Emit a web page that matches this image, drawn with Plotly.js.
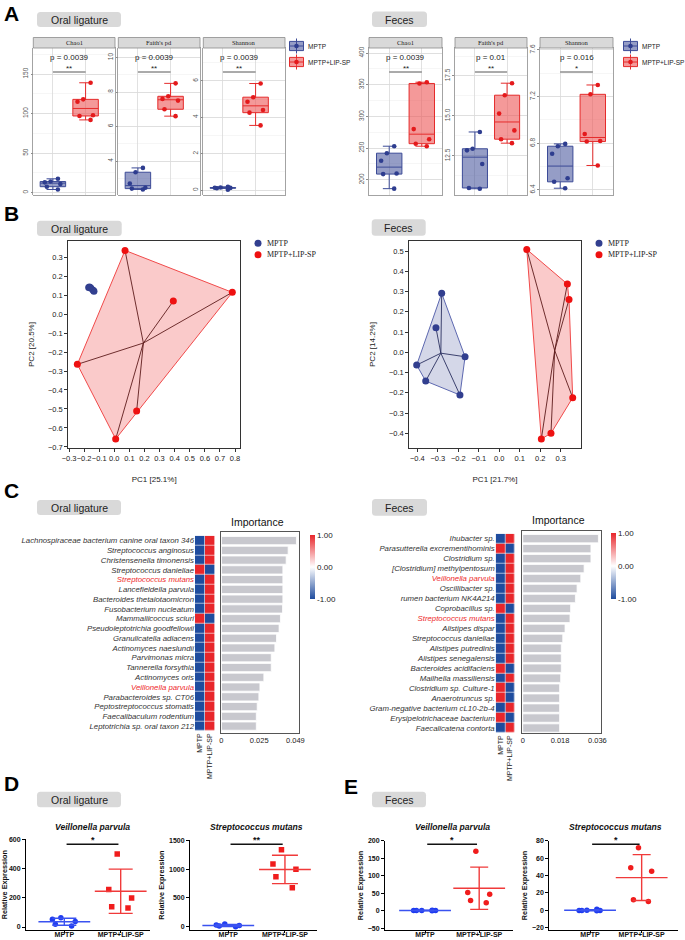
<!DOCTYPE html>
<html>
<head>
<meta charset="utf-8">
<script src="https://cdn.plot.ly/plotly-3.0.1.min.js"></script>
<style>
html,body{margin:0;padding:0;background:#ffffff;}
#fig{width:685px;height:940px;}
</style>
</head>
<body>
<div id="fig"></div>
<script>
// ======================= DATA =======================
const groups = ['MPTP', 'MPTP+LIP-SP'];
const alphaMetrics = ['Chao1', "Faith's pd", 'Shannon'];
const sectionOral = 'Oral ligature';
const sectionFeces = 'Feces';

// (A) alpha diversity - oral ligature
const oralChao1MPTP = [14, 17.5, 7.5, 13, 4, 11];
const oralChao1LIP = [139, 118, 115, 98, 92, 97];
const oralFaithMPTP = [3.6, 3.35, 2.7, 2.45, 2.4, 2.35];
const oralFaithLIP = [8.5, 7.75, 7.6, 7.5, 7.0, 6.6];
const oralShannonMPTP = [0.18, 0.12, 0.1, 0.13, 0.02, 0.14];
const oralShannonLIP = [5.85, 5.1, 4.85, 4.4, 4.25, 3.55];
const oralAlphaP = ['p = 0.0039', 'p = 0.0039', 'p = 0.0039'];
const oralAlphaStars = ['**', '**', '**'];
const oralAlphaTicks = [[0, 50, 100, 150], [4, 6, 8, 10], [0, 2, 4, 6]];

// (A) alpha diversity - feces
const fecesChao1MPTP = [253, 230, 242, 210, 209, 186];
const fecesChao1LIP = [354, 352, 280, 264, 257, 253];
const fecesFaithMPTP = [14.0, 12.85, 12.0, 12.95, 10.5, 10.45];
const fecesFaithLIP = [17.05, 16.3, 15.15, 14.1, 13.55, 13.3];
const fecesShannonMPTP = [6.775, 6.795, 6.71, 6.5, 6.47, 6.415];
const fecesShannonLIP = [7.3, 7.22, 6.88, 6.815, 6.82, 6.61];
const fecesAlphaP = ['p = 0.0039', 'p = 0.01', 'p = 0.016'];
const fecesAlphaStars = ['**', '**', '*'];
const fecesAlphaTicks = [[200, 250, 300, 350, 400], [12.5, 15.0, 17.5], [6.4, 6.8, 7.2, 7.6]];

// (B) PCoA
const oralPC1MPTP = [-0.17, -0.16, -0.155, -0.14, -0.135, -0.165];
const oralPC2MPTP = [0.14, 0.14, 0.135, 0.125, 0.12, 0.142];
const oralPC1LIP = [0.071, 0.782, 0.391, -0.245, 0.148, 0.009];
const oralPC2LIP = [0.335, 0.114, 0.068, -0.265, -0.511, -0.658];
const fecesPC1MPTP = [-0.281, -0.309, -0.167, -0.403, -0.359, -0.192];
const fecesPC2MPTP = [0.291, 0.121, -0.022, -0.063, -0.142, -0.211];
const fecesPC1LIP = [0.134, 0.332, 0.34, 0.358, 0.252, 0.205];
const fecesPC2LIP = [0.508, 0.337, 0.261, -0.224, -0.40, -0.428];
const oralPCTitles = ['PC1 [25.1%]', 'PC2 [20.5%]'];
const fecesPCTitles = ['PC1 [21.7%]', 'PC2 [14.2%]'];

// (C) random-forest importance
const oralSpecies = ['Lachnospiraceae bacterium canine oral taxon 346', 'Streptococcus anginosus', 'Christensenella timonensis', 'Streptococcus danieliae', 'Streptococcus mutans', 'Lancefieldella parvula', 'Bacteroides thetaiotaomicron', 'Fusobacterium nucleatum', 'Mammaliicoccus sciuri', 'Pseudoleptotrichia goodfellowii', 'Granulicatella adiacens', 'Actinomyces naeslundii', 'Parvimonas micra', 'Tannerella forsythia', 'Actinomyces oris', 'Veillonella parvula', 'Parabacteroides sp. CT06', 'Peptostreptococcus stomatis', 'Faecalibaculum rodentium', 'Leptotrichia sp. oral taxon 212'];
const oralImportance = [0.0497, 0.0442, 0.0429, 0.0407, 0.0407, 0.0407, 0.0407, 0.0405, 0.0391, 0.0382, 0.0365, 0.0354, 0.0330, 0.0330, 0.0281, 0.0255, 0.0248, 0.0237, 0.0231, 0.0231];
const oralDirMPTP = [-1, -1, -1, 1, -1, -1, -1, -1, 1, -1, -1, -1, -1, -1, -1, -1, -1, -1, -1, -1];
const oralDirLIP = [1, 1, 1, -1, 1, 1, 1, 1, -1, 1, 1, 1, 1, 1, 1, 1, 1, 1, 1, 1];
const oralImpTicks = [0, 0.025, 0.049];
const oralImpTickText = ['0', '0.025', '0.049'];

const fecesSpecies = ['Ihubacter sp.', 'Parasutterella excrementihominis', 'Clostridium sp.', '[Clostridium] methylpentosum', 'Veillonella parvula', 'Oscillibacter sp.', 'rumen bacterium NK4A214', 'Coprobacillus sp.', 'Streptococcus mutans', 'Alistipes dispar', 'Streptococcus danieliae', 'Alistipes putredinis', 'Alistipes senegalensis', 'Bacteroides acidifaciens', 'Mailhella massiliensis', 'Clostridium sp. Culture-1', 'Anaerotruncus sp.', 'Gram-negative bacterium cL10-2b-4', 'Erysipelotrichaceae bacterium', 'Faecalicatena contorta'];
const fecesImportance = [0.0365, 0.0329, 0.0329, 0.0296, 0.0280, 0.0262, 0.0254, 0.0231, 0.0228, 0.0204, 0.0193, 0.0186, 0.0186, 0.0186, 0.0183, 0.0178, 0.0178, 0.0178, 0.0178, 0.0178];
const fecesDirMPTP = [-1, 1, -1, -1, -1, -1, -1, 1, -1, -1, -1, -1, -1, 1, -1, 1, 1, -1, 1, -1];
const fecesDirLIP = [1, -1, 1, 1, 1, 1, 1, -1, 1, 1, 1, 1, 1, -1, 1, -1, -1, 1, -1, 1];
const fecesImpTicks = [0, 0.018, 0.036];
const fecesImpTickText = ['0', '0.018', '0.036'];
const highlightSpecies = ['Streptococcus mutans', 'Veillonella parvula'];
const colorbarTicks = [-1, 0, 1];
const colorbarTickText = ['-1.00', '0.00', '1.00'];

// (D) qPCR oral ligature, (E) qPCR feces
const exprTitles = ['Veillonella parvula', 'Streptococcus mutans'];
const dVeillonellaMPTP = [64, 53, 37, 7, 18];
const dVeillonellaLIP = [500, 256, 199, 130, 139];
const dMutansMPTP = [46, 29, 23, 12, 0];
const dMutansLIP = [1338, 1089, 996, 869, 678];
const eVeillonellaMPTP = [0.3, 1.6, 0.4, 0.2, 0.5, 0.3];
const eVeillonellaLIP = [170, 52, 47, 29, 23];
const eMutansMPTP = [-0.3, 1.2, -0.2, -0.4, 0.1, -0.3];
const eMutansLIP = [72, 49, 45, 10, 12];
const dStars = ['*', '**'];
const eStars = ['*', '*'];
const dTicks = [[0, 200, 400, 600], [0, 500, 1000, 1500]];
const eTicks = [[-50, 0, 50, 100, 150, 200], [-20, 0, 20, 40, 60, 80]];
const exprYTitle = 'Relative Expression';

// ======================= STYLE / HELPERS =======================
const W = 685, H = 940;
const px = v => v / W;
const py = v => 1 - v / H;
const FONT = 'Liberation Sans, Arial, Helvetica, sans-serif';
const SERIF = 'Liberation Serif, Times New Roman, serif';
const GRID = '#dadada', MINOR = '#f0f0f0', FRAME = '#8c8c8c';
const A_BLUE_LINE = '#3c4b97', A_BLUE_FILL = 'rgba(62,76,152,0.55)', A_BLUE_PT = '#2e3d8f';
const A_RED_LINE = '#e52b2b', A_RED_FILL = 'rgba(236,85,85,0.6)', A_RED_PT = '#e41a1c';
const B_BLUE = '#323f8f', B_RED = '#ee1111';
const E_BLUE = '#1f3cf0', E_RED = '#f01c1c';
const E_BLUE_BAR = '#3a52f0', E_RED_BAR = '#f03a3a';

const data = [];
const shapes = [];
const annotations = [];
const layout = {
  width: W, height: H, margin: {l: 0, r: 0, t: 0, b: 0},
  paper_bgcolor: '#ffffff', plot_bgcolor: '#ffffff',
  showlegend: false, boxmode: 'overlay', barmode: 'overlay',
  font: {family: FONT, color: '#222'}
};

const mean = a => a.reduce((s, v) => s + v, 0) / a.length;
const sd = a => { const m = mean(a); return Math.sqrt(a.reduce((s, v) => s + (v - m) * (v - m), 0) / (a.length - 1)); };

function ann(text, x, y, opts) {
  annotations.push(Object.assign({text: text, x: px(x), y: py(y), xref: 'paper', yref: 'paper',
    showarrow: false, xanchor: 'center', yanchor: 'middle', font: {family: FONT, size: 10, color: '#222'}}, opts || {}));
}
function labelBox(text, x0, y0, x1, y1) {
  const r = 3.5, X = px, Y = py;
  const path = `M${X(x0 + r)},${Y(y0)} L${X(x1 - r)},${Y(y0)} Q${X(x1)},${Y(y0)} ${X(x1)},${Y(y0 + r)} ` +
    `L${X(x1)},${Y(y1 - r)} Q${X(x1)},${Y(y1)} ${X(x1 - r)},${Y(y1)} L${X(x0 + r)},${Y(y1)} ` +
    `Q${X(x0)},${Y(y1)} ${X(x0)},${Y(y1 - r)} L${X(x0)},${Y(y0 + r)} Q${X(x0)},${Y(y0)} ${X(x0 + r)},${Y(y0)} Z`;
  shapes.push({type: 'path', path: path, xref: 'paper', yref: 'paper', fillcolor: '#d9d9d9', line: {width: 0}, layer: 'below'});
  ann(text, (x0 + x1) / 2, (y0 + y1) / 2 + 0.5, {font: {family: FONT, size: 10.5, color: '#222'}});
}
function panelLetter(letter, x, y, anchor) {
  ann('<b>' + letter + '</b>', x, y, {xanchor: 'left', yanchor: anchor || 'middle', font: {family: FONT, size: 21, color: '#000'}});
}

// ---------- (A) ----------
function alphaPanel(n, xpix, xr, yr, mptp, lip, ticks, fmt, metric, pText, star) {
  const s = n === 1 ? '' : String(n);
  const step = ticks[1] - ticks[0];
  layout['xaxis' + s] = {domain: [px(xpix[0]), px(xpix[1])], anchor: 'y' + s, type: 'category',
    categoryorder: 'array', categoryarray: groups, range: xr, showticklabels: false, ticks: '',
    showgrid: true, gridcolor: GRID, gridwidth: 0.8, showline: true, mirror: true, linecolor: FRAME,
    linewidth: 0.8, zeroline: false, fixedrange: true};
  layout['yaxis' + s] = {domain: [py(195), py(48)], anchor: 'x' + s, range: yr,
    tickmode: 'array', tickvals: ticks, tickformat: fmt, tickangle: -90,
    tickfont: {family: FONT, size: 6.5, color: '#555'}, ticks: 'outside', ticklen: 2, tickcolor: FRAME,
    showgrid: true, gridcolor: GRID, gridwidth: 0.8,
    minor: {tickmode: 'linear', tick0: ticks[0], dtick: step / 2, showgrid: true, gridcolor: MINOR, gridwidth: 0.6, ticks: ''},
    showline: true, mirror: true, linecolor: FRAME, linewidth: 0.8, zeroline: false};
  [mptp, lip].forEach((vals, gi) => {
    data.push({type: 'box', x: vals.map(() => groups[gi]), y: vals, name: groups[gi],
      xaxis: 'x' + s, yaxis: 'y' + s, showlegend: false,
      boxpoints: 'all', jitter: 0.75, pointpos: 0, width: 0.78,
      line: {color: gi ? A_RED_LINE : A_BLUE_LINE, width: 1},
      fillcolor: gi ? A_RED_FILL : A_BLUE_FILL,
      marker: {color: gi ? A_RED_PT : A_BLUE_PT, size: 4.6},
      hoverinfo: 'skip'});
  });
  shapes.push({type: 'rect', xref: 'paper', yref: 'paper', x0: px(xpix[0]), x1: px(xpix[1]), y0: py(48), y1: py(37.5),
    fillcolor: '#d9d9d9', line: {color: FRAME, width: 0.8}});
  ann(metric, (xpix[0] + xpix[1]) / 2, 42.9, {font: {family: SERIF, size: 6.5, color: '#1a1a1a'}});
  annotations.push({text: pText, xref: 'x' + s, yref: 'paper', x: 0.5, y: py(57), showarrow: false,
    yanchor: 'middle', font: {family: FONT, size: 8, color: '#222'}});
  annotations.push({text: star, xref: 'x' + s, yref: 'paper', x: 0.5, y: py(68.5), showarrow: false,
    yanchor: 'middle', font: {family: FONT, size: 8, color: '#222'}});
  shapes.push({type: 'line', xref: 'x' + s, yref: 'paper', x0: 0, x1: 1, y0: py(72), y1: py(72),
    line: {color: '#444', width: 0.9}});
}
const A_LEFT = [[33.3, 115], [118.3, 200], [203.3, 285]];
const A_RIGHT = [[369, 442], [455, 527], [540, 613]];
const A_LEFT_YR = [[-3, 183], [2.03, 10.55], [-0.27, 7.8]];
const A_RIGHT_YR = [[176, 408], [10.06, 19.25], [6.357, 7.617]];
const oralAlpha = [[oralChao1MPTP, oralChao1LIP], [oralFaithMPTP, oralFaithLIP], [oralShannonMPTP, oralShannonLIP]];
const fecesAlpha = [[fecesChao1MPTP, fecesChao1LIP], [fecesFaithMPTP, fecesFaithLIP], [fecesShannonMPTP, fecesShannonLIP]];
const leftFmt = ['', '', ''], rightFmt = ['', '.1f', '.1f'];
oralAlpha.forEach((pair, i) => {
  alphaPanel(i + 1, A_LEFT[i], [-0.6, 1.9], A_LEFT_YR[i], pair[0], pair[1], oralAlphaTicks[i], leftFmt[i], alphaMetrics[i], oralAlphaP[i], oralAlphaStars[i]);
});
fecesAlpha.forEach((pair, i) => {
  alphaPanel(i + 4, A_RIGHT[i], [-0.62, 1.62], A_RIGHT_YR[i], pair[0], pair[1], fecesAlphaTicks[i], rightFmt[i], alphaMetrics[i], fecesAlphaP[i], fecesAlphaStars[i]);
});
// manual legends for A (box keys)
function boxKey(cx, cy, gi) {
  const line = gi ? A_RED_LINE : A_BLUE_LINE, fill = gi ? A_RED_FILL : A_BLUE_FILL, pt = gi ? A_RED_PT : A_BLUE_PT;
  shapes.push({type: 'line', xref: 'paper', yref: 'paper', x0: px(cx), x1: px(cx), y0: py(cy - 7.5), y1: py(cy + 7.5), line: {color: line, width: 1}});
  shapes.push({type: 'rect', xref: 'paper', yref: 'paper', x0: px(cx - 7), x1: px(cx + 7), y0: py(cy - 4.6), y1: py(cy + 4.6), fillcolor: fill, line: {color: line, width: 1}});
  shapes.push({type: 'line', xref: 'paper', yref: 'paper', x0: px(cx - 7), x1: px(cx + 7), y0: py(cy), y1: py(cy), line: {color: line, width: 1}});
  shapes.push({type: 'circle', xref: 'paper', yref: 'paper', x0: px(cx - 2.3), x1: px(cx + 2.3), y0: py(cy - 2.3), y1: py(cy + 2.3), fillcolor: pt, line: {width: 0}});
}
[[296.5, 306], [630.5, 639.5]].forEach(pos => {
  groups.forEach((g, gi) => {
    const cy = 46 + 16 * gi;
    boxKey(pos[0], cy, gi);
    ann(g, pos[1], cy, {xanchor: 'left', font: {family: FONT, size: 6.5, color: '#222'}});
  });
});
labelBox(sectionOral, 37, 12, 121, 27);
labelBox(sectionFeces, 372, 11.5, 427, 27);
panelLetter('A', 2, 0, 'top');

// ---------- (B) ----------
function hull(points) {
  const p = points.slice().sort((a, b) => a[0] - b[0] || a[1] - b[1]);
  const cross = (o, a, b) => (a[0] - o[0]) * (b[1] - o[1]) - (a[1] - o[1]) * (b[0] - o[0]);
  const lower = [], upper = [];
  for (const q of p) { while (lower.length >= 2 && cross(lower[lower.length - 2], lower[lower.length - 1], q) <= 0) lower.pop(); lower.push(q); }
  for (let i = p.length - 1; i >= 0; i--) { const q = p[i]; while (upper.length >= 2 && cross(upper[upper.length - 2], upper[upper.length - 1], q) <= 0) upper.pop(); upper.push(q); }
  lower.pop(); upper.pop();
  return lower.concat(upper);
}
function pcoaPanel(n, xpix, xr, yr, sets, titles) {
  const s = String(n);
  const axFont = {family: FONT, size: 7.5, color: '#222'};
  layout['xaxis' + s] = {domain: [px(xpix[0]), px(xpix[1])], anchor: 'y' + s, range: xr, tick0: 0, dtick: 0.1,
    tickformat: '.1f', tickangle: 0, tickfont: axFont, ticks: 'outside', ticklen: 3, tickcolor: '#333',
    showline: true, mirror: true, linecolor: '#333', linewidth: 1, showgrid: false, zeroline: false,
    title: {text: titles[0], font: {family: FONT, size: 8, color: '#222'}, standoff: 14}};
  layout['yaxis' + s] = {domain: [py(448.3), py(240.7)], anchor: 'x' + s, range: yr, tick0: 0, dtick: 0.1,
    tickformat: '.1f', tickfont: axFont, ticks: 'outside', ticklen: 3, tickcolor: '#333',
    showline: true, mirror: true, linecolor: '#333', linewidth: 1, showgrid: false, zeroline: false,
    title: {text: titles[1], font: {family: FONT, size: 8, color: '#222'}, standoff: 12}};
  const fills = ['rgba(60,72,150,0.22)', 'rgba(238,80,80,0.30)'];
  const edges = ['#5d68b0', '#f04a4a'];
  const spokes = ['#2a3060', '#5e1c1c'];
  sets.forEach((g, gi) => {
    const h = hull(g[0].map((v, i) => [v, g[1][i]]));
    data.push({type: 'scatter', mode: 'lines', x: h.map(p => p[0]).concat([h[0][0]]), y: h.map(p => p[1]).concat([h[0][1]]),
      fill: 'toself', fillcolor: fills[gi], line: {color: edges[gi], width: 1}, xaxis: 'x' + s, yaxis: 'y' + s,
      showlegend: false, hoverinfo: 'skip'});
  });
  sets.forEach((g, gi) => {
    const cx = mean(g[0]), cy = mean(g[1]);
    const sx = [], sy = [];
    g[0].forEach((v, i) => { sx.push(cx, v, null); sy.push(cy, g[1][i], null); });
    data.push({type: 'scatter', mode: 'lines', x: sx, y: sy, line: {color: spokes[gi], width: 0.9},
      xaxis: 'x' + s, yaxis: 'y' + s, showlegend: false, hoverinfo: 'skip'});
  });
  sets.forEach((g, gi) => {
    data.push({type: 'scatter', mode: 'markers', x: g[0], y: g[1], name: groups[gi],
      marker: {color: gi ? B_RED : B_BLUE, size: 7}, xaxis: 'x' + s, yaxis: 'y' + s, showlegend: false, hoverinfo: 'skip'});
  });
}
pcoaPanel(7, [68.3, 240], [-0.305, 0.833], [-0.707, 0.386],
  [[oralPC1MPTP, oralPC2MPTP], [oralPC1LIP, oralPC2LIP]], oralPCTitles);
pcoaPanel(8, [409.3, 580.7], [-0.439, 0.397], [-0.474, 0.551],
  [[fecesPC1MPTP, fecesPC2MPTP], [fecesPC1LIP, fecesPC2LIP]], fecesPCTitles);
[[258, 265], [599, 606]].forEach(pos => {
  groups.forEach((g, gi) => {
    const cy = 243.3 + 11.5 * gi;
    shapes.push({type: 'circle', xref: 'paper', yref: 'paper', x0: px(pos[0] - 3.5), x1: px(pos[0] + 3.5),
      y0: py(cy - 3.5), y1: py(cy + 3.5), fillcolor: gi ? B_RED : B_BLUE, line: {width: 0}});
    ann(g, pos[1], cy, {xanchor: 'left', font: {family: SERIF, size: 8, color: '#222'}});
  });
});
labelBox(sectionOral, 37, 220.7, 121.7, 236);
labelBox(sectionFeces, 371.7, 219.3, 425.7, 235.7);
panelLetter('B', 2, 213);

// ---------- (C) ----------
const HEAT_SCALE = [[0, '#1f4c9e'], [0.5, '#ffffff'], [1, '#e8262b']];
function importancePanel(nh, nb, species, imp, dirM, dirL, geo, ticks, tickText, rng) {
  const sh = String(nh), sb = String(nb);
  const rows = species.length;
  const rh = (geo.hbot - geo.htop) / rows;
  const c0 = geo.htop + rh / 2, cLast = geo.hbot - rh / 2;
  const ticktext = species.map(sp => highlightSpecies.indexOf(sp) >= 0 ? '<span style="color:#ee2a2a">' + sp + '</span>' : sp);
  layout['xaxis' + sh] = {domain: [px(geo.hx[0]), px(geo.hx[1])], anchor: 'y' + sh, type: 'category',
    categoryorder: 'array', categoryarray: groups, tickangle: -90, tickfont: {family: FONT, size: 7, color: '#222'},
    ticks: '', showgrid: false, zeroline: false, showline: false};
  layout['yaxis' + sh] = {domain: [py(geo.hbot), py(geo.htop)], anchor: 'x' + sh, type: 'category',
    categoryorder: 'array', categoryarray: species, range: [rows - 0.5, -0.5], tickmode: 'array', tickvals: species,
    ticktext: ticktext, tickfont: {family: FONT, size: 7.8, color: '#333', style: 'italic'}, ticks: '',
    showgrid: false, zeroline: false, showline: false};
  data.push({type: 'heatmap', x: groups, y: species, z: species.map((_, i) => [dirM[i], dirL[i]]),
    zmin: -1, zmax: 1, colorscale: HEAT_SCALE, xgap: 0.6, ygap: 0.6, xaxis: 'x' + sh, yaxis: 'y' + sh,
    hoverinfo: 'skip', showscale: true,
    colorbar: {x: px(geo.cbx), xanchor: 'left', y: py(geo.cbtop), yanchor: 'top', len: geo.cblen, lenmode: 'pixels',
      thickness: 5, outlinewidth: 0, tickmode: 'array', tickvals: colorbarTicks, ticktext: colorbarTickText,
      ticks: '', tickfont: {family: FONT, size: 8, color: '#222'}, xpad: 0, ypad: 0}});
  layout['xaxis' + sb] = {domain: [px(geo.bx[0]), px(geo.bx[1])], anchor: 'y' + sb, range: rng,
    tickmode: 'array', tickvals: ticks, ticktext: tickText, tickfont: {family: FONT, size: 7.5, color: '#222'},
    ticks: '', showline: true, mirror: true, linecolor: '#555', linewidth: 1, showgrid: false, zeroline: false};
  layout['yaxis' + sb] = {domain: [py(geo.bbot), py(geo.btop)], anchor: 'x' + sb, type: 'category',
    categoryorder: 'array', categoryarray: species,
    range: [rows - 1 + (geo.bbot - cLast) / rh, -(c0 - geo.btop) / rh], showticklabels: false, ticks: '',
    showline: true, mirror: true, linecolor: '#555', linewidth: 1, showgrid: false, zeroline: false};
  data.push({type: 'bar', orientation: 'h', y: species, x: imp, width: 0.84, xaxis: 'x' + sb, yaxis: 'y' + sb,
    marker: {color: '#c8c8ce', line: {color: '#ffffff', width: 0.8}}, hoverinfo: 'skip', showlegend: false});
  ann('Importance', geo.title[0], geo.title[1], {font: {family: FONT, size: 10.5, color: '#111'}});
}
importancePanel(9, 10, oralSpecies, oralImportance, oralDirMPTP, oralDirLIP,
  {hx: [195, 215], htop: 535.7, hbot: 731, bx: [221, 299.3], btop: 531.7, bbot: 733,
   cbx: 310, cbtop: 535, cblen: 64, title: [257, 522]}, oralImpTicks, oralImpTickText, [-0.0003, 0.0516]);
importancePanel(11, 12, fecesSpecies, fecesImportance, fecesDirMPTP, fecesDirLIP,
  {hx: [495.7, 515], htop: 533.7, hbot: 733, bx: [521.7, 600.7], btop: 530.7, bbot: 733,
   cbx: 610.7, cbtop: 533, cblen: 66, title: [558, 520]}, fecesImpTicks, fecesImpTickText, [-0.0005, 0.0376]);
labelBox(sectionOral, 37, 500, 121, 515);
labelBox(sectionFeces, 372, 499, 427, 515.7);
panelLetter('C', 2, 491);

// ---------- (D) & (E) ----------
function exprPanel(n, xpix, xr, ytop, ybot, yr, ticks, mptp, lip, symbols, title, star, capHalf) {
  const s = String(n);
  const tf = {family: FONT, size: 7, color: '#111', weight: 'bold'};
  layout['xaxis' + s] = {domain: [px(xpix[0]), px(xpix[1])], anchor: 'y' + s, type: 'category',
    categoryorder: 'array', categoryarray: groups, range: xr, ticks: 'outside', ticklen: 1.5, tickwidth: 1,
    tickcolor: '#000', tickfont: tf, ticklabelstandoff: -4, showline: true, linecolor: '#000', linewidth: 1,
    showgrid: false, zeroline: false};
  layout['yaxis' + s] = {domain: [py(ybot), py(ytop)], anchor: 'x' + s, range: yr, tickmode: 'array', tickvals: ticks,
    ticks: 'outside', ticklen: 3, tickwidth: 1, tickcolor: '#000', tickfont: tf, showline: true, linecolor: '#000',
    linewidth: 1, showgrid: false, zeroline: false,
    title: {text: exprYTitle, font: {family: FONT, size: 7.3, color: '#111', weight: 'bold'}, standoff: 3}};
  [mptp, lip].forEach((vals, gi) => {
    const col = gi ? E_RED : E_BLUE;
    const barCol = gi ? E_RED_BAR : E_BLUE_BAR;
    data.push({type: 'box', x: vals.map(() => groups[gi]), y: vals, xaxis: 'x' + s, yaxis: 'y' + s,
      boxpoints: 'all', jitter: 1, pointpos: 0, width: 0.5, fillcolor: 'rgba(0,0,0,0)',
      line: {width: 0, color: 'rgba(0,0,0,0)'}, marker: {symbol: symbols[gi], size: 5.5, color: col},
      showlegend: false, hoverinfo: 'skip'});
    data.push({type: 'scatter', mode: 'markers', x: [groups[gi]], y: [mean(vals)], xaxis: 'x' + s, yaxis: 'y' + s,
      marker: {symbol: 'line-ew-open', size: 37, color: barCol, line: {width: 1.4, color: barCol}},
      error_y: {type: 'data', array: [sd(vals)], visible: true, color: barCol, thickness: 1.4, width: capHalf},
      showlegend: false, hoverinfo: 'skip'});
  });
  shapes.push({type: 'line', xref: 'x' + s, yref: 'paper', x0: 0.04, x1: 0.96, y0: py(844.2), y1: py(844.2),
    line: {color: '#111', width: 1.5}});
  annotations.push({text: star, xref: 'x' + s, yref: 'paper', x: 0.5, y: py(839.5), showarrow: false, yanchor: 'middle',
    font: {family: FONT, size: 9, color: '#111', weight: 'bold'}});
  annotations.push({text: '<i>' + title + '</i>', xref: 'x' + s, yref: 'paper', x: 0.5, y: py(827.3), showarrow: false,
    yanchor: 'middle', font: {family: FONT, size: 8.6, color: '#111', weight: 'bold'}});
}
exprPanel(13, [26, 150], [-0.68, 1.52], 839.3, 930, [-20.5, 600], dTicks[0], dVeillonellaMPTP, dVeillonellaLIP,
  ['circle', 'square'], exprTitles[0], dStars[0], 12);
exprPanel(14, [190, 316.7], [-0.675, 1.56], 840.3, 930, [-57, 1500], dTicks[1], dMutansMPTP, dMutansLIP,
  ['circle', 'square'], exprTitles[1], dStars[1], 13);
exprPanel(15, [385, 513.3], [-0.74, 1.63], 840.7, 930.3, [-56, 200], eTicks[0], eVeillonellaMPTP, eVeillonellaLIP,
  ['circle', 'circle'], exprTitles[0], eStars[0], 9);
exprPanel(16, [549.3, 678.3], [-0.79, 1.71], 840.7, 930.3, [-23, 80], eTicks[1], eMutansMPTP, eMutansLIP,
  ['circle', 'circle'], exprTitles[1], eStars[1], 9);
labelBox(sectionOral, 37, 791.7, 121, 807.3);
labelBox(sectionFeces, 372, 791.7, 426, 807.3);
panelLetter('D', 2, 783.5);
panelLetter('E', 342, 786);

layout.shapes = shapes;
layout.annotations = annotations;
Plotly.newPlot('fig', data, layout, {staticPlot: true, displayModeBar: false, responsive: false});
</script>
</body>
</html>
